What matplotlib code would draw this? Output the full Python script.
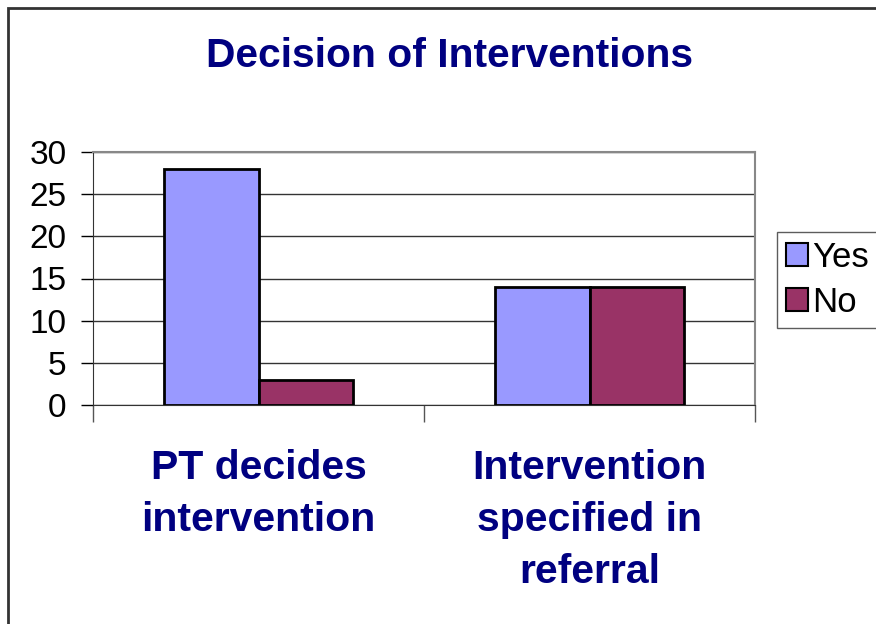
import matplotlib.pyplot as plt
import numpy as np
from matplotlib.patches import Rectangle

plt.rcParams['font.family'] = ['Liberation Sans', 'DejaVu Sans']

categories = ['PT decides\nintervention', 'Intervention\nspecified in\nreferral']
yes_vals = [28, 14]
no_vals = [3, 14]
series_names = ['Yes', 'No']
yticks = [0, 5, 10, 15, 20, 25, 30]

navy = '#000080'
fig = plt.figure(figsize=(8.76, 6.24), dpi=100)

# outer chart frame (runs off the right/bottom like the original)
fig.patches.append(Rectangle((8 / 876, -0.05), 1.2, 1 - 8 / 624 + 0.05,
                             transform=fig.transFigure, fill=False,
                             edgecolor='#333333', linewidth=2))

ax = fig.add_axes([93 / 876, 1 - 405 / 624, 662 / 876, 253 / 624])

x = np.arange(len(categories))
w = 0.287
ax.bar(x - w / 2, yes_vals, w, color='#9999FF', edgecolor='black', linewidth=2, label=series_names[0], zorder=3)
ax.bar(x + w / 2, no_vals, w, color='#993366', edgecolor='black', linewidth=2, label=series_names[1], zorder=3)

ax.set_xlim(-0.5, len(categories) - 0.5)
ax.set_ylim(0, 30)
ax.set_yticks(yticks)
ax.tick_params(axis='y', labelsize=24, length=9, width=1, direction='out', pad=10)
ax.yaxis.grid(True, color='#333333', linewidth=1, zorder=0)

# category ticks between groups
ax.set_xticks([-0.5, 0.5, 1.5])
ax.set_xticklabels([])
ax.tick_params(axis='x', length=12, width=1, color='#555555', direction='out')
for xi, lab in zip(x, categories):
    ax.text(xi, -0.175, lab, transform=ax.get_xaxis_transform(), ha='center', va='top',
            fontsize=29.5, fontweight='bold', color=navy, linespacing=1.47)

for s in ['top', 'right']:
    ax.spines[s].set_color('#888888')
    ax.spines[s].set_linewidth(1.5)
ax.spines['left'].set_color('#333333')
ax.spines['bottom'].set_color('#333333')

fig.text(449 / 876, 1 - 56 / 624, 'Decision of Interventions', ha='center', va='center',
         fontsize=29.3, fontweight='bold', color=navy)

leg = fig.legend(loc='upper left', bbox_to_anchor=(777 / 876, 1 - 232 / 624), fontsize=25,
                 frameon=True, fancybox=False, edgecolor='#333333', handlelength=0.65,
                 handleheight=0.65, handletextpad=0.12, borderpad=0.25, labelspacing=0.35,
                 borderaxespad=0)
leg.get_frame().set_linewidth(1)
for h in leg.legend_handles:
    h.set_linewidth(1.5)

fig.savefig('out.png', dpi=100)
